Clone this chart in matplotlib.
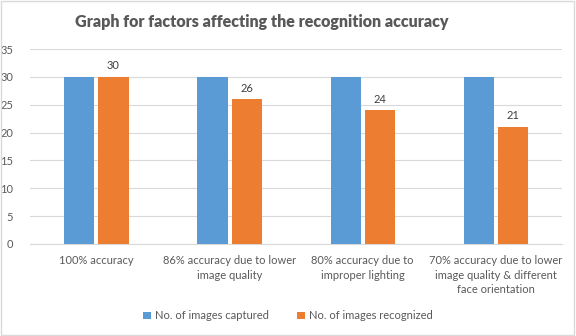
import matplotlib.pyplot as plt
import numpy as np

categories = ['100% accuracy',
              '86% accuracy due to lower\nimage quality',
              '80% accuracy due to\nimproper lighting',
              '70% accuracy due to lower\nimage quality & different\nface orientation']
captured = [30, 30, 30, 30]
recognized = [30, 26, 24, 21]

plt.rcParams['font.family'] = ['Lato', 'DejaVu Sans']
grey = '#595959'

fig = plt.figure(figsize=(5.76, 3.36), dpi=100)
ax = fig.add_axes([0.052, 0.274, 0.924, 0.58])

x = np.arange(len(categories))
w = 0.226
ax.bar(x - w/2 - 0.015, captured, w, color='#5B9BD5', label='No. of images captured', zorder=3)
b2 = ax.bar(x + w/2 + 0.015, recognized, w, color='#ED7D31', label='No. of images recognized', zorder=3)
for r, v in zip(b2, recognized):
    ax.text(r.get_x() + r.get_width()/2, v + 1.0, str(v), ha='center', va='bottom',
            fontsize=8, color='#404040')

ax.set_xlim(-0.5, 3.5)
ax.set_ylim(0, 35)
ax.set_yticks(range(0, 36, 5))
ax.yaxis.grid(True, color='#d9d9d9', lw=0.8, zorder=0)
for s in ['top', 'right', 'left']:
    ax.spines[s].set_visible(False)
ax.spines['bottom'].set_color('#d9d9d9')
ax.set_xticks(x)
ax.set_xticklabels(categories, fontsize=8, color=grey, linespacing=1.4)
ax.tick_params(axis='both', length=0, labelsize=8, labelcolor=grey)
ax.tick_params(axis='x', pad=8)
ax.tick_params(axis='y', pad=12)

fig.text(0.455, 0.935, 'Graph for factors affecting the recognition accuracy',
         ha='center', va='center', fontsize=11.5, fontweight='heavy', color=grey)

fig.legend(loc='center', bbox_to_anchor=(0.5, 0.06), ncol=2, frameon=False,
           fontsize=8, labelcolor=grey, handlelength=0.7, handleheight=0.7,
           columnspacing=2.5, handletextpad=0.4)

fig.patches.append(plt.Rectangle((0.002, 0.003), 0.995, 0.993, transform=fig.transFigure,
                                 fill=False, edgecolor='#d9d9d9', lw=1))

fig.savefig('out.png', dpi=100)
